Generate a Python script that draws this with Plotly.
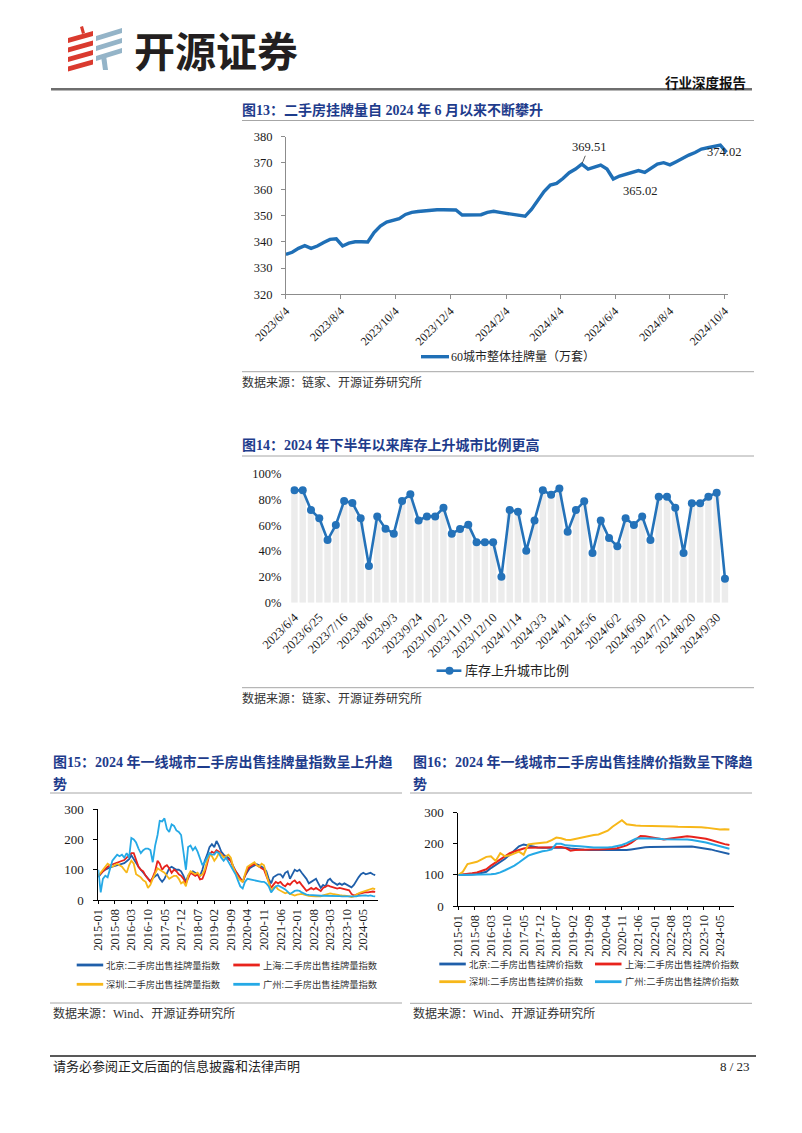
import plotly.graph_objects as go
import datetime as _dt

W, H = 802, 1133
def px(x): return x / W
def py(y): return 1 - y / H

SERIF = "Liberation Serif, Noto Sans CJK SC"
CJK = "Noto Sans CJK SC"
NAVY = "#1E3C8C"

# ---------------- Chart 13 data (weekly, from 2023-06-04) ----------------
c13_start = "2023-06-04"
c13_values = [335.2, 336.0, 337.5, 338.5, 337.5, 338.4, 339.7, 340.9, 341.1, 338.4,
              339.5, 340.0, 340.0, 339.9, 343.5, 346.0, 347.5, 348.2, 348.8, 350.4,
              351.2, 351.5, 351.8, 352.1, 352.2, 352.2, 352.1, 352.1, 350.2, 350.2,
              350.2, 350.3, 351.2, 351.6, 351.2, 350.9, 350.5, 350.2, 349.7, 352.3,
              355.8, 359.1, 361.6, 362.2, 364.1, 366.3, 367.7, 369.51, 367.7, 368.6,
              369.2, 367.7, 363.9, 365.02, 365.8, 366.4, 367.1, 366.4, 367.9, 369.6,
              370.1, 369.3, 370.5, 371.8, 373.0, 374.0, 375.3, 375.8, 376.2, 376.8,
              374.02]
c13_name = "60城市整体挂牌量（万套）"
c13_labeled = [47, 53, 70]

_d0 = _dt.date(2023, 6, 4)
c13_dates = [(_d0 + _dt.timedelta(days=7 * i)).isoformat() for i in range(len(c13_values))]

# ---------------- Chart 14 data ----------------
c14_cats = ["2023/6/4", "2023/6/11", "2023/6/18", "2023/6/25", "2023/7/2", "2023/7/9",
            "2023/7/16", "2023/7/23", "2023/7/30", "2023/8/6", "2023/8/13", "2023/8/20",
            "2023/9/3", "2023/9/10", "2023/9/17", "2023/9/24", "2023/10/8", "2023/10/15",
            "2023/10/22", "2023/10/29", "2023/11/5", "2023/11/19", "2023/11/26", "2023/12/3",
            "2023/12/10", "2023/12/24", "2024/1/7", "2024/1/14", "2024/1/21", "2024/1/28",
            "2024/3/3", "2024/3/17", "2024/3/24", "2024/4/1", "2024/4/14", "2024/4/21",
            "2024/5/6", "2024/5/12", "2024/5/26", "2024/6/2", "2024/6/16", "2024/6/23",
            "2024/6/30", "2024/7/7", "2024/7/14", "2024/7/21", "2024/7/28", "2024/8/11",
            "2024/8/20", "2024/9/1", "2024/9/15", "2024/9/30", "2024/10/8"]
c14_values = [0.871, 0.871, 0.718, 0.654, 0.486, 0.602, 0.788, 0.773, 0.654, 0.284,
              0.669, 0.574, 0.535, 0.788, 0.840, 0.638, 0.669, 0.669, 0.736, 0.535,
              0.571, 0.605, 0.468, 0.468, 0.468, 0.202, 0.718, 0.705, 0.403, 0.638,
              0.871, 0.837, 0.886, 0.550, 0.718, 0.786, 0.385, 0.638, 0.501, 0.437,
              0.654, 0.602, 0.669, 0.486, 0.822, 0.822, 0.736, 0.385, 0.770, 0.770,
              0.822, 0.853, 0.186]
c14_name = "库存上升城市比例"

# ---------------- Chart 15 data (monthly 2015-01 .. 2024-10) ----------------
c15_months = [f"{y}-{m:02d}-01" for y in range(2015, 2025) for m in range(1, 13)][:118]
c15_bj = [75, 85, 95, 100, 105, 108, 110, 112, 115, 118, 120, 122,
          128, 135, 148, 135, 120, 110, 100, 90, 80, 68, 62, 72,
          80, 85, 70, 60, 70, 90, 105, 110, 105, 100, 100, 95,
          80, 60, 80, 90, 95, 90, 85, 80, 100, 130, 150, 175,
          185, 175, 195, 180, 160, 150, 145, 140, 130, 110, 95, 85,
          70, 60, 80, 95, 105, 110, 115, 118, 115, 110, 105, 95,
          70, 55, 75, 80, 85, 85, 75, 90, 95, 70, 85, 100,
          95, 100, 90, 80, 70, 55, 60, 65, 70, 55, 40, 50,
          45, 65, 70, 60, 55, 50, 55, 50, 55, 50, 45, 42,
          50, 65, 75, 85, 90, 85, 88, 90, 85, 82]
c15_sh = [80, 88, 95, 105, 110, 115, 118, 120, 122, 125, 128, 132,
          140, 148, 155, 155, 130, 110, 100, 95, 80, 70, 60, 75,
          95, 130, 120, 100, 110, 115, 105, 90, 100, 95, 85, 80,
          70, 55, 75, 90, 85, 80, 85, 68, 70, 90, 120, 150,
          160, 155, 165, 160, 150, 145, 140, 135, 130, 110, 95, 80,
          70, 60, 80, 100, 110, 115, 120, 115, 110, 105, 100, 80,
          60, 40, 50, 60, 55, 60, 50, 45, 55, 50, 60, 65,
          55, 60, 50, 40, 30, 35, 40, 35, 40, 35, 30, 40,
          45, 48, 45, 42, 40, 38, 40, 38, 35, 35, 32, 20,
          15, 18, 20, 22, 24, 26, 25, 27, 28, 27]
c15_sz = [80, 90, 100, 110, 120, 115, 110, 115, 120, 115, 110, 100,
          90, 115, 130, 120, 85, 80, 75, 65, 60, 40, 50, 70,
          90, 105, 100, 95, 90, 80, 70, 75, 80, 80, 70, 55,
          60, 45, 80, 95, 90, 85, 90, 80, 85, 100, 130, 150,
          145, 130, 140, 155, 150, 140, 145, 150, 140, 110, 90, 75,
          65, 60, 85, 110, 115, 120, 125, 115, 110, 120, 115, 85,
          60, 30, 40, 45, 35, 30, 25, 22, 25, 20, 18, 15,
          18, 20, 20, 18, 15, 14, 13, 12, 12, 13, 12, 15,
          18, 20, 22, 20, 18, 17, 16, 15, 15, 14, 12, 10,
          12, 18, 22, 25, 28, 30, 32, 35, 38, 36]
c15_gz = [100, 25, 70, 80, 75, 100, 130, 140, 150, 145, 150, 140,
          155, 140, 205, 200, 190, 170, 155, 165, 170, 170, 165, 125,
          180, 215, 262, 260, 270, 235, 225, 250, 245, 230, 225, 215,
          150, 100, 175, 180, 165, 175, 160, 140, 115, 125, 140, 155,
          150, 150, 160, 155, 140, 130, 140, 125, 115, 100, 85, 65,
          45, 38, 60, 70, 68, 67, 65, 63, 62, 60, 60, 55,
          45, 25, 35, 45, 48, 45, 40, 35, 28, 20, 25, 30,
          32, 30, 25, 20, 18, 17, 16, 15, 15, 14, 14, 14,
          14, 15, 14, 14, 13, 13, 13, 12, 12, 12, 11, 10,
          10, 12, 14, 15, 15, 15, 14, 15, 13, 12]
c15_names = ["北京:二手房出售挂牌量指数", "上海:二手房出售挂牌量指数",
             "深圳:二手房出售挂牌量指数", "广州:二手房出售挂牌量指数"]

# ---------------- Chart 16 data (bi-monthly 2015-01 .. 2024-09) ----------------
c16_months = [f"{y}-{m:02d}-01" for y in range(2015, 2025) for m in range(1, 13, 2)][:59]
c16_bj = [100, 100, 100, 101, 103, 106,
          110, 122, 132, 142, 152, 165,
          180, 192, 198, 194, 190, 188,
          187, 187, 187, 188, 188, 187,
          185, 183, 182, 181, 180, 180,
          179, 178, 178, 178, 178, 179,
          180, 182, 185, 188, 189, 190,
          190, 190, 191, 192, 192, 192,
          192, 192, 191, 189, 187, 185,
          182, 178, 174, 170, 167]
c16_sh = [100, 101, 103, 105, 108, 112,
          118, 130, 140, 150, 160, 170,
          175, 180, 185, 187, 188, 188,
          188, 188, 188, 189, 190, 186,
          178, 180, 181, 182, 182, 182,
          182, 182, 183, 184, 186, 190,
          195, 203, 215, 225, 224, 221,
          218, 215, 214, 216, 218, 220,
          221, 224, 223, 221, 219, 216,
          212, 207, 202, 199, 196]
c16_sz = [100, 110, 135, 138, 142, 150,
          158, 160, 145, 170, 160, 163,
          168, 175, 165, 198, 200, 201,
          203, 205, 212, 220, 218, 213,
          212, 215, 220, 223, 226, 228,
          230, 235, 242, 255, 265, 276,
          263, 260, 259, 258, 258, 258,
          257, 257, 256, 256, 256, 255,
          255, 255, 254, 254, 253, 252,
          250, 248, 246, 247, 246]
c16_gz = [100, 100, 100, 100, 100, 100,
          101, 102, 104, 108, 115, 122,
          130, 140, 152, 162, 167, 172,
          176, 178, 182, 200, 200, 195,
          195, 193, 192, 190, 188, 188,
          188, 187, 188, 190, 192, 196,
          202, 210, 216, 218, 218, 218,
          218, 216, 215, 215, 214, 213,
          214, 214, 212, 210, 207, 204,
          200, 196, 191, 187, 184]
c16_names = ["北京:二手房出售挂牌价指数", "上海:二手房出售挂牌价指数",
             "深圳:二手房出售挂牌价指数", "广州:二手房出售挂牌价指数"]

CITY_COLORS = ["#1F5FAA", "#E8231C", "#F7B719", "#25A9E6"]

fig = go.Figure()

# Chart 13
fig.add_trace(go.Scatter(x=c13_dates, y=c13_values, mode="lines", name=c13_name,
                         line=dict(color="#1F6FB6", width=3.4), xaxis="x", yaxis="y"))
# Chart 14
fig.add_trace(go.Bar(x=c14_cats, y=c14_values, marker=dict(color="#ECECEC", line=dict(width=0)),
                     xaxis="x2", yaxis="y2", showlegend=False))
fig.add_trace(go.Scatter(x=c14_cats, y=c14_values, mode="lines+markers", name=c14_name,
                         line=dict(color="#2472B9", width=2.6),
                         marker=dict(size=8, color="#2472B9"), xaxis="x2", yaxis="y2"))
# Chart 15
for vals, col, nm in zip([c15_bj, c15_sh, c15_sz, c15_gz], CITY_COLORS, c15_names):
    fig.add_trace(go.Scatter(x=c15_months, y=vals, mode="lines", name=nm,
                             line=dict(color=col, width=1.8), xaxis="x3", yaxis="y3"))
# Chart 16
for vals, col, nm in zip([c16_bj, c16_sh, c16_sz, c16_gz], CITY_COLORS, c16_names):
    fig.add_trace(go.Scatter(x=c16_months, y=vals, mode="lines", name=nm,
                             line=dict(color=col, width=2.0), xaxis="x4", yaxis="y4"))

AX_GRAY = "#8C8C8C"
tick_font = lambda s: dict(family=SERIF, size=s, color="#1A1A1A")

layout_axes = dict(
    xaxis=dict(domain=[px(285.9), px(728.4)], anchor="y", type="date",
               range=["2023-06-04", "2024-10-08"], tickmode="linear", tick0="2023-06-04",
               dtick="M2", tickformat="%Y/%-m/%-d", tickangle=-45, showline=True,
               linecolor=AX_GRAY, ticks="outside", ticklen=4, tickcolor=AX_GRAY,
               showgrid=False, zeroline=False, tickfont=tick_font(12)),
    yaxis=dict(domain=[py(294.3), py(136.7)], anchor="x", range=[320, 380], dtick=10,
               showline=True, linecolor=AX_GRAY, ticks="outside", ticklen=4,
               tickcolor=AX_GRAY, showgrid=False, zeroline=False, tickfont=tick_font(12.5),
               ticklabelstandoff=6),
    xaxis2=dict(domain=[px(290.3), px(729.1)], anchor="y2", type="category",
                range=[-0.5, len(c14_cats) - 0.5], tickmode="array",
                tickvals=c14_cats[::3], ticktext=c14_cats[::3], tickangle=-45,
                showline=False, ticks="", showgrid=False, zeroline=False,
                tickfont=tick_font(12.5), ticklabelstandoff=4),
    yaxis2=dict(domain=[py(602.7), py(473.7)], anchor="x2", range=[0, 1], dtick=0.2,
                tick0=0, tickformat=".0%", showline=False, showgrid=False, zeroline=False,
                tickfont=tick_font(12.5), ticklabelstandoff=8),
    xaxis3=dict(domain=[px(98.3), px(377.6)], anchor="y3", type="date",
                range=["2015-01-01", "2024-11-01"], tickmode="linear", tick0="2015-01-01",
                dtick="M7", tickformat="%Y-%m", tickangle=-90, showline=True,
                linecolor="#000", ticks="outside", ticklen=3, tickcolor="#000",
                showgrid=False, zeroline=False, tickfont=tick_font(12.5)),
    yaxis3=dict(domain=[py(900), py(809.3)], anchor="x3", range=[0, 300], dtick=100,
                showline=True, linecolor="#000", ticks="outside", ticklen=4, tickcolor="#000",
                showgrid=False, zeroline=False, tickfont=tick_font(13), ticklabelstandoff=7),
    xaxis4=dict(domain=[px(458.3), px(734.1)], anchor="y4", type="date",
                range=["2015-01-01", "2024-11-01"], tickmode="linear", tick0="2015-01-01",
                dtick="M7", tickformat="%Y-%m", tickangle=-90, showline=True,
                linecolor="#000", ticks="outside", ticklen=3, tickcolor="#000",
                showgrid=False, zeroline=False, tickfont=tick_font(12.5)),
    yaxis4=dict(domain=[py(906), py(812.7)], anchor="x4", range=[0, 300], dtick=100,
                showline=True, linecolor="#000", ticks="outside", ticklen=4, tickcolor="#000",
                showgrid=False, zeroline=False, tickfont=tick_font(13), ticklabelstandoff=7),
)
for _k in layout_axes:
    layout_axes[_k]["automargin"] = False

annotations = []
shapes = []

def txt(x, y, s, size, color="#000", family=SERIF, xanchor="left", bold=False):
    if bold:
        s = f"<b>{s}</b>"
    annotations.append(dict(x=px(x), y=py(y), xref="paper", yref="paper", text=s,
                            showarrow=False, xanchor=xanchor, yanchor="middle",
                            font=dict(size=size, color=color, family=family)))

def hline(x0, x1, y, color="#A6A6A6", width=1.0):
    shapes.append(dict(type="line", xref="paper", yref="paper", x0=px(x0), x1=px(x1),
                       y0=py(y), y1=py(y), line=dict(color=color, width=width)))

def poly(pts, color):
    path = "M " + " L ".join(f"{px(a):.5f},{py(b):.5f}" for a, b in pts) + " Z"
    shapes.append(dict(type="path", xref="paper", yref="paper", path=path,
                       fillcolor=color, line=dict(width=0)))

# ---- header logo ----
RED, BLUE = "#DA3A2E", "#94B4C8"
for k in range(4):
    b = 9.5 * k
    poly([(68, 38 + b), (93, 31 + b), (93, 36 + b), (68, 43 + b)], RED)
poly([(80, 27), (83, 26), (85, 33), (82, 34)], RED)
for k in range(3):
    b = 10 * k
    poly([(96, 36 + b), (122, 28 + b), (122, 33 + b), (96, 41 + b)], BLUE)
poly([(101, 56), (106, 55), (108, 70), (103, 70)], BLUE)
txt(132, 49, "开源证券", 41, color="#231F20", family=CJK, bold=True)
txt(748, 82, "行业深度报告", 13.5, color="#111", family=CJK, xanchor="right", bold=True)
hline(51, 752, 89.3, color="#6E6E6E", width=2.5)

# ---- chart 13 frame ----
txt(240, 110, "图13：二手房挂牌量自 2024 年 6 月以来不断攀升", 14, color=NAVY, bold=True)
hline(242, 754, 120.5)
shapes.append(dict(type="line", xref="paper", yref="paper", x0=px(421), x1=px(449),
                   y0=py(356.7), y1=py(356.7), line=dict(color="#1F6FB6", width=3.4)))
txt(449, 356.7, c13_name, 12, color="#222")
hline(242, 754, 371.7)
txt(240, 382.3, "数据来源：链家、开源证券研究所", 12, color="#333")

# data labels on chart 13
i = c13_labeled[0]
annotations.append(dict(x=c13_dates[i], y=c13_values[i], xref="x", yref="y",
                        text=f"{c13_values[i]:.2f}", showarrow=True, arrowhead=0,
                        arrowwidth=0.8, arrowcolor="#333", ax=7, ay=-17, standoff=1,
                        font=dict(family=SERIF, size=12.5, color="#222")))
i = c13_labeled[1]
annotations.append(dict(x=c13_dates[i], y=c13_values[i], xref="x", yref="y",
                        text=f"{c13_values[i]:.2f}", showarrow=False, xanchor="left",
                        yanchor="top", xshift=1, yshift=-6,
                        font=dict(family=SERIF, size=12.5, color="#222")))
i = c13_labeled[2]
annotations.append(dict(x=c13_dates[i], y=c13_values[i], xref="x", yref="y",
                        text=f"{c13_values[i]:.2f}", showarrow=False, xanchor="center",
                        yanchor="middle", xshift=-2.5, yshift=0,
                        font=dict(family=SERIF, size=12.5, color="#222")))

# ---- chart 14 frame ----
txt(240, 445, "图14：2024 年下半年以来库存上升城市比例更高", 14, color=NAVY, bold=True)
hline(242, 754, 456)
shapes.append(dict(type="line", xref="paper", yref="paper", x0=px(436.6), x1=px(461.4),
                   y0=py(670.7), y1=py(670.7), line=dict(color="#2472B9", width=2.6)))
shapes.append(dict(type="circle", xref="paper", yref="paper", x0=px(445.5), x1=px(453.5),
                   y0=py(674.7), y1=py(666.7), fillcolor="#2472B9", line=dict(width=0)))
txt(463, 670.7, c14_name, 13, color="#222")
hline(242, 754, 687.7)
txt(240, 698.3, "数据来源：链家、开源证券研究所", 12, color="#333")

# ---- chart 15 frame ----
txt(51, 761.7, "图15：2024 年一线城市二手房出售挂牌量指数呈上升趋", 14, color=NAVY, bold=True)
txt(51, 784, "势", 14, color=NAVY, bold=True)
hline(50, 402, 793)
leg15 = [(76.7, 965), (233.3, 965), (76.7, 984.3), (233.3, 984.3)]
for (lx, ly), col, nm in zip(leg15, CITY_COLORS, c15_names):
    shapes.append(dict(type="line", xref="paper", yref="paper", x0=px(lx), x1=px(lx + 26.5),
                       y0=py(ly), y1=py(ly), line=dict(color=col, width=2.8)))
    txt(lx + 27.5, ly, nm, 9.3, color="#333")
hline(50, 402, 1003)
txt(51, 1013, "数据来源：Wind、开源证券研究所", 12, color="#333")

# ---- chart 16 frame ----
txt(411, 761.7, "图16：2024 年一线城市二手房出售挂牌价指数呈下降趋", 14, color=NAVY, bold=True)
txt(411, 784, "势", 14, color=NAVY, bold=True)
hline(410, 752, 793)
leg16 = [(439.3, 964), (595, 964), (439.3, 981.7), (595, 981.7)]
for (lx, ly), col, nm in zip(leg16, CITY_COLORS, c16_names):
    shapes.append(dict(type="line", xref="paper", yref="paper", x0=px(lx), x1=px(lx + 26.5),
                       y0=py(ly), y1=py(ly), line=dict(color=col, width=2.8)))
    txt(lx + 27.5, ly, nm, 9.3, color="#333")
hline(410, 752, 1003.3)
txt(411, 1013, "数据来源：Wind、开源证券研究所", 12, color="#333")

# ---- footer ----
hline(50, 756, 1056, color="#222", width=1.4)
txt(51, 1066, "请务必参阅正文后面的信息披露和法律声明", 13, color="#222")
txt(752, 1066, "8 / 23", 13, color="#222", xanchor="right")

fig.update_layout(
    width=W, height=H, autosize=False,
    margin=dict(l=0, r=0, t=0, b=0, pad=0),
    paper_bgcolor="white", plot_bgcolor="white",
    showlegend=False, bargap=0.22,
    annotations=annotations, shapes=shapes,
    **layout_axes,
)

fig.write_html("out.html", config={"displayModeBar": False},
               post_script="document.body.style.margin='0';document.body.style.overflow='hidden';")
